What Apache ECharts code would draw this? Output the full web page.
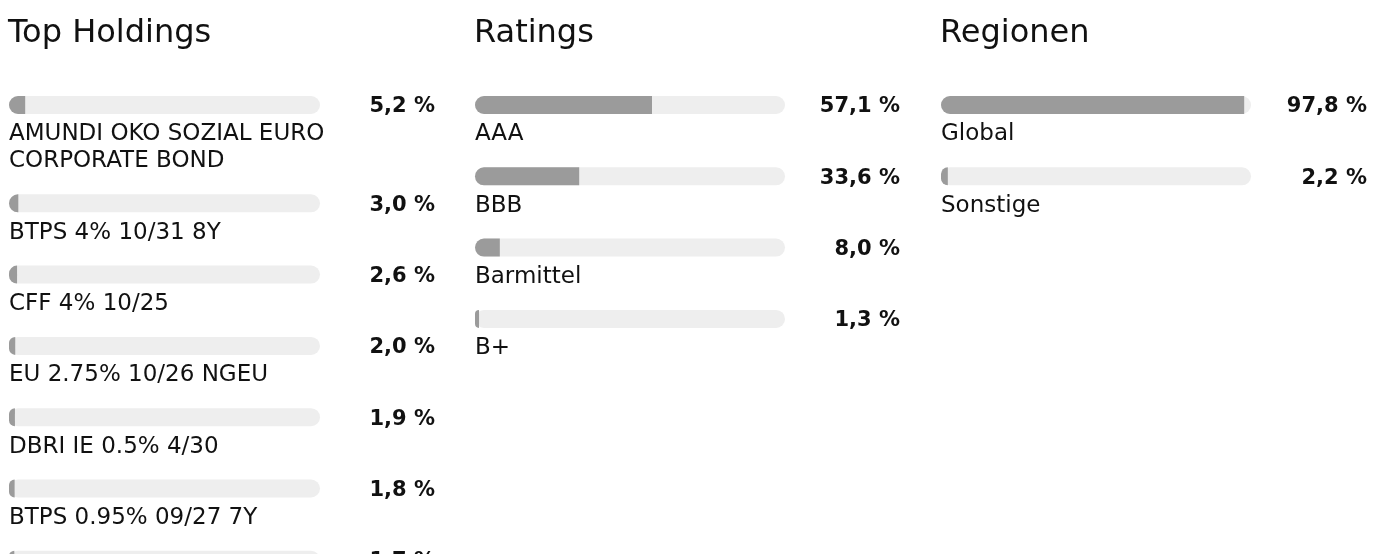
<!DOCTYPE html>
<html>
<head>
<meta charset="utf-8">
<title>Fondsstruktur</title>
<script src="https://cdn.jsdelivr.net/npm/echarts@6/dist/echarts.min.js"></script>
<style>
  html, body { margin: 0; padding: 0; background: #ffffff; }
  #chart { width: 1385px; height: 554px; }
</style>
</head>
<body>
<div id="chart"></div>
<script>
// Panel headings
const panelTitles = ['Top Holdings', 'Ratings', 'Regionen'];

// Top Holdings (weights in %)
const holdingNames = [
  'AMUNDI OKO SOZIAL EURO\nCORPORATE BOND',
  'BTPS 4% 10/31 8Y',
  'CFF 4% 10/25',
  'EU 2.75% 10/26 NGEU',
  'DBRI IE 0.5% 4/30',
  'BTPS 0.95% 09/27 7Y',
  'BTPS 1.1% 04/27'
];
const holdingValues = [5.2, 3.0, 2.6, 2.0, 1.9, 1.8, 1.7];

// Ratings (weights in %)
const ratingNames = ['AAA', 'BBB', 'Barmittel', 'B+'];
const ratingValues = [57.1, 33.6, 8.0, 1.3];

// Regionen (weights in %)
const regionNames = ['Global', 'Sonstige'];
const regionValues = [97.8, 2.2];

const FONT = '"DejaVu Sans", Verdana, sans-serif';
const TRACK = '#eeeeee';
const FILL = '#9b9b9b';
const TEXT = '#111111';

// Panel geometry: track start, track length, right edge of the value column
const panels = [
  { title: panelTitles[0], names: holdingNames, values: holdingValues, left: 9,   width: 311, valueRight: 435 },
  { title: panelTitles[1], names: ratingNames,  values: ratingValues,  left: 475, width: 310, valueRight: 900 },
  { title: panelTitles[2], names: regionNames,  values: regionValues,  left: 941, width: 310, valueRight: 1367 }
];

const BAR = 18;          // bar thickness
const FIRST_TOP = 96;    // top of the first bar in every panel
const ROW = 71.3;        // row pitch for a one-line label
const LINE = 27;         // label line height

const fmt = v => v.toFixed(1).replace('.', ',') + ' %';

const title = [];
const grid = [];
const xAxis = [];
const yAxis = [];
const series = [];

panels.forEach(p => {
  title.push({
    text: p.title,
    left: p.left - 1,
    top: 18,
    padding: 0,
    textStyle: { fontFamily: FONT, fontSize: 32, fontWeight: 'normal', color: TEXT }
  });

  let top = FIRST_TOP;
  p.names.forEach((name, i) => {
    const k = grid.length;
    // rows keep their place even when the list runs past the bottom edge
    grid.push({ left: p.left, top: top, width: p.width, height: BAR, containLabel: false, outerBoundsMode: 'none' });
    xAxis.push({ gridIndex: k, type: 'value', min: 0, max: 100, show: false });
    yAxis.push({
      gridIndex: k,
      type: 'category',
      data: [name],
      axisLine: { show: false },
      axisTick: { show: false },
      splitLine: { show: false },
      axisLabel: {
        show: true,
        inside: true,
        margin: 0,
        align: 'left',
        verticalAlign: 'top',
        padding: [16, 0, 0, 0],
        lineHeight: LINE,
        fontFamily: FONT,
        fontSize: 23,
        color: TEXT
      }
    });
    series.push({
      type: 'bar',
      xAxisIndex: k,
      yAxisIndex: k,
      data: [p.values[i]],
      barWidth: BAR,
      silent: true,
      showBackground: true,
      backgroundStyle: { color: TRACK, borderRadius: BAR / 2 },
      itemStyle: { color: FILL, borderRadius: [BAR / 2, 0, 0, BAR / 2] },
      label: {
        show: true,
        position: [p.valueRight - p.left, BAR / 2 + 2],
        align: 'right',
        verticalAlign: 'middle',
        fontFamily: FONT,
        fontSize: 21,
        fontWeight: 'bold',
        color: TEXT,
        formatter: d => fmt(d.value)
      }
    });
    const lines = name.split('\n').length;
    top += ROW + LINE * (lines - 1);
  });
});

const chart = echarts.init(document.getElementById('chart'), null, { renderer: 'canvas' });
chart.setOption({
  animation: false,
  backgroundColor: '#ffffff',
  title: title,
  grid: grid,
  xAxis: xAxis,
  yAxis: yAxis,
  series: series
});
</script>
</body>
</html>
